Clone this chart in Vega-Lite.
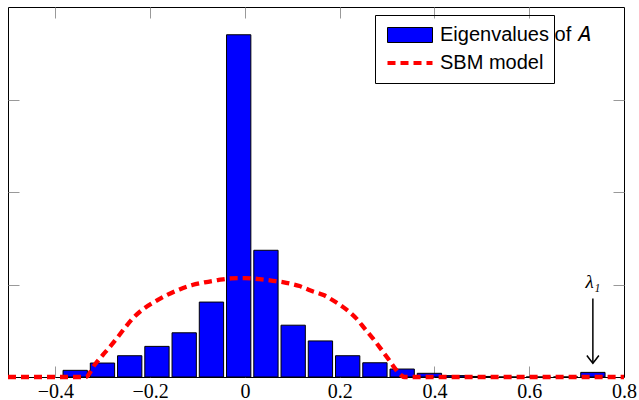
{
  "$schema": "https://vega.github.io/schema/vega-lite/v6.json",
  "width": 616,
  "height": 370,
  "autosize": "none",
  "padding": {"left": 8, "top": 7, "right": 15, "bottom": 23},
  "background": "white",
  "config": {
    "view": {"stroke": "black", "strokeWidth": 1},
    "axis": {"grid": false, "domain": false, "title": null, "tickColor": "#999999", "tickSize": -11, "tickWidth": 1,
      "labelFont": "Liberation Serif", "labelFontSize": 20, "labelColor": "black"}
  },
  "layer": [
    {
      "data": {"values": [
        {"lo": -0.3838, "hi": -0.3325, "count": 0.072, "series": "Eigenvalues of 𝐴"},
        {"lo": -0.3263, "hi": -0.2750, "count": 0.151, "series": "Eigenvalues of 𝐴"},
        {"lo": -0.2688, "hi": -0.2175, "count": 0.23, "series": "Eigenvalues of 𝐴"},
        {"lo": -0.2113, "hi": -0.1600, "count": 0.331, "series": "Eigenvalues of 𝐴"},
        {"lo": -0.1538, "hi": -0.1025, "count": 0.478, "series": "Eigenvalues of 𝐴"},
        {"lo": -0.0963, "hi": -0.0450, "count": 0.81, "series": "Eigenvalues of 𝐴"},
        {"lo": -0.0388, "hi": 0.0125, "count": 3.70, "series": "Eigenvalues of 𝐴"},
        {"lo": 0.0187, "hi": 0.0700, "count": 1.37, "series": "Eigenvalues of 𝐴"},
        {"lo": 0.0762, "hi": 0.1275, "count": 0.56, "series": "Eigenvalues of 𝐴"},
        {"lo": 0.1337, "hi": 0.1850, "count": 0.39, "series": "Eigenvalues of 𝐴"},
        {"lo": 0.1912, "hi": 0.2425, "count": 0.23, "series": "Eigenvalues of 𝐴"},
        {"lo": 0.2487, "hi": 0.3000, "count": 0.154, "series": "Eigenvalues of 𝐴"},
        {"lo": 0.3062, "hi": 0.3575, "count": 0.086, "series": "Eigenvalues of 𝐴"},
        {"lo": 0.3637, "hi": 0.4150, "count": 0.04, "series": "Eigenvalues of 𝐴"},
        {"lo": 0.4212, "hi": 0.4725, "count": 0.015, "series": "Eigenvalues of 𝐴"},
        {"lo": 0.4787, "hi": 0.5300, "count": 0.006, "series": "Eigenvalues of 𝐴"},
        {"lo": 0.5362, "hi": 0.5875, "count": 0, "series": "Eigenvalues of 𝐴"},
        {"lo": 0.5937, "hi": 0.6450, "count": 0, "series": "Eigenvalues of 𝐴"},
        {"lo": 0.6512, "hi": 0.7025, "count": 0, "series": "Eigenvalues of 𝐴"},
        {"lo": 0.7087, "hi": 0.7600, "count": 0.05, "series": "Eigenvalues of 𝐴"}
      ]},
      "mark": {"type": "bar", "stroke": "black", "strokeWidth": 1, "opacity": 1},
      "encoding": {
        "x": {"field": "lo", "type": "quantitative",
          "scale": {"domain": [-0.5, 0.8], "nice": false, "zero": false},
          "axis": {"orient": "bottom", "values": [-0.4, -0.2, 0, 0.2, 0.4, 0.6, 0.8],
            "labelExpr": "datum.value === 0 ? '0' : format(datum.value, '.1f')",
            "labelFont": "Liberation Serif", "labelFontSize": 20, "labelColor": "black",
            "labelPadding": 15, "labelFlush": false, "labelOverlap": false,
            "tickOpacity": {"condition": {"test": "datum.value > 0.75", "value": 0}, "value": 1}}},
        "x2": {"field": "hi"},
        "y": {"field": "count", "type": "quantitative",
          "scale": {"domain": [0, 4], "nice": false},
          "axis": {"orient": "left", "values": [1, 2, 3], "labels": false}},
        "y2": {"datum": 0},
        "fill": {"field": "series", "type": "nominal",
          "scale": {"domain": ["Eigenvalues of 𝐴"], "range": ["#0000ff"]},
          "legend": {"title": null, "orient": "none", "legendX": 367, "legendY": 8,
            "padding": 10, "strokeColor": null, "fillColor": null,
            "labelFont": "Liberation Sans", "labelFontSize": 20, "labelColor": "black", "labelLimit": 400,
            "symbolType": "M-1,-1H5V1H-1Z", "symbolSize": 225, "symbolStrokeColor": "black", "symbolStrokeWidth": 1,
            "symbolOpacity": 1, "labelOffset": 35}}
      }
    },
    {
      "data": {"values": [
        {"x": -0.5, "y": 0, "series": "SBM model"},
        {"x": -0.336, "y": 0, "series": "SBM model"},
        {"x": -0.3174, "y": 0.13, "series": "SBM model"},
        {"x": -0.2999, "y": 0.238, "series": "SBM model"},
        {"x": -0.2858, "y": 0.321, "series": "SBM model"},
        {"x": -0.2704, "y": 0.418, "series": "SBM model"},
        {"x": -0.2541, "y": 0.526, "series": "SBM model"},
        {"x": -0.2366, "y": 0.634, "series": "SBM model"},
        {"x": -0.2155, "y": 0.731, "series": "SBM model"},
        {"x": -0.1908, "y": 0.813, "series": "SBM model"},
        {"x": -0.1648, "y": 0.886, "series": "SBM model"},
        {"x": -0.138, "y": 0.947, "series": "SBM model"},
        {"x": -0.1112, "y": 0.994, "series": "SBM model"},
        {"x": -0.0853, "y": 1.023, "series": "SBM model"},
        {"x": -0.0572, "y": 1.048, "series": "SBM model"},
        {"x": -0.0289, "y": 1.066, "series": "SBM model"},
        {"x": -0.0008, "y": 1.069, "series": "SBM model"},
        {"x": 0.0308, "y": 1.058, "series": "SBM model"},
        {"x": 0.0589, "y": 1.04, "series": "SBM model"},
        {"x": 0.0872, "y": 1.018, "series": "SBM model"},
        {"x": 0.1152, "y": 0.983, "series": "SBM model"},
        {"x": 0.1399, "y": 0.932, "series": "SBM model"},
        {"x": 0.1659, "y": 0.886, "series": "SBM model"},
        {"x": 0.1906, "y": 0.813, "series": "SBM model"},
        {"x": 0.2138, "y": 0.731, "series": "SBM model"},
        {"x": 0.2349, "y": 0.634, "series": "SBM model"},
        {"x": 0.2524, "y": 0.526, "series": "SBM model"},
        {"x": 0.27, "y": 0.418, "series": "SBM model"},
        {"x": 0.2877, "y": 0.299, "series": "SBM model"},
        {"x": 0.3031, "y": 0.191, "series": "SBM model"},
        {"x": 0.3193, "y": 0.076, "series": "SBM model"},
        {"x": 0.337, "y": 0, "series": "SBM model"},
        {"x": 0.8, "y": 0, "series": "SBM model"}
      ]},
      "mark": {"type": "line", "strokeDash": [8, 5], "strokeWidth": 4.3, "interpolate": "monotone"},
      "encoding": {
        "x": {"field": "x", "type": "quantitative",
          "scale": {"domain": [-0.5, 0.8], "nice": false, "zero": false},
          "axis": {"orient": "top", "values": [-0.4, -0.2, 0, 0.2, 0.4, 0.6], "labels": false}},
        "y": {"field": "y", "type": "quantitative",
          "scale": {"domain": [0, 4], "nice": false},
          "axis": {"orient": "right", "values": [1, 2, 3], "labels": false}},
        "stroke": {"field": "series", "type": "nominal",
          "scale": {"domain": ["SBM model"], "range": ["#ff0000"]},
          "legend": {"title": "           ", "titleFont": "Liberation Sans", "titleFontSize": 20,
            "titleFontWeight": "normal", "titleOpacity": 0, "titlePadding": 8, "titleLimit": 400,
            "orient": "none", "legendX": 367, "legendY": 8,
            "padding": 10, "strokeColor": "black", "fillColor": null, "cornerRadius": 0,
            "labelFont": "Liberation Sans", "labelFontSize": 20, "labelColor": "black", "labelLimit": 400,
            "symbolType": "M-1,0H5", "symbolSize": 225, "symbolDash": [8, 5], "symbolStrokeWidth": 4,
            "symbolOpacity": 1, "labelOffset": 35}}
      }
    },
    {
      "data": {"values": [{"x": 0.7343, "top": 0.85, "tip": 0.148, "label": "λ₁"}]},
      "layer": [
        {
          "mark": {"type": "rule", "stroke": "black", "strokeWidth": 1.5},
          "encoding": {
            "x": {"field": "x", "type": "quantitative", "axis": null, "scale": {"domain": [-0.5, 0.8], "nice": false, "zero": false}},
            "y": {"field": "top", "type": "quantitative", "axis": null, "scale": {"domain": [0, 4], "nice": false}},
            "y2": {"field": "tip"}
          }
        },
        {
          "mark": {"type": "point", "shape": "M-1,-1.3Q-0.4,-0.5 0,0Q0.4,-0.5 1,-1.3", "filled": false,
            "stroke": "black", "strokeWidth": 1.5, "size": 144, "opacity": 1},
          "encoding": {
            "x": {"field": "x", "type": "quantitative", "axis": null},
            "y": {"field": "tip", "type": "quantitative", "axis": null}
          }
        },
        {
          "mark": {"type": "text", "font": "Liberation Serif", "fontSize": 19, "fontStyle": "italic", "baseline": "alphabetic", "align": "center", "color": "black", "dy": -10},
          "encoding": {
            "x": {"field": "x", "type": "quantitative", "axis": null},
            "y": {"field": "top", "type": "quantitative", "axis": null},
            "text": {"field": "label"}
          }
        }
      ]
    }
  ],
  "resolve": {"scale": {"x": "independent", "y": "independent"}}
}
